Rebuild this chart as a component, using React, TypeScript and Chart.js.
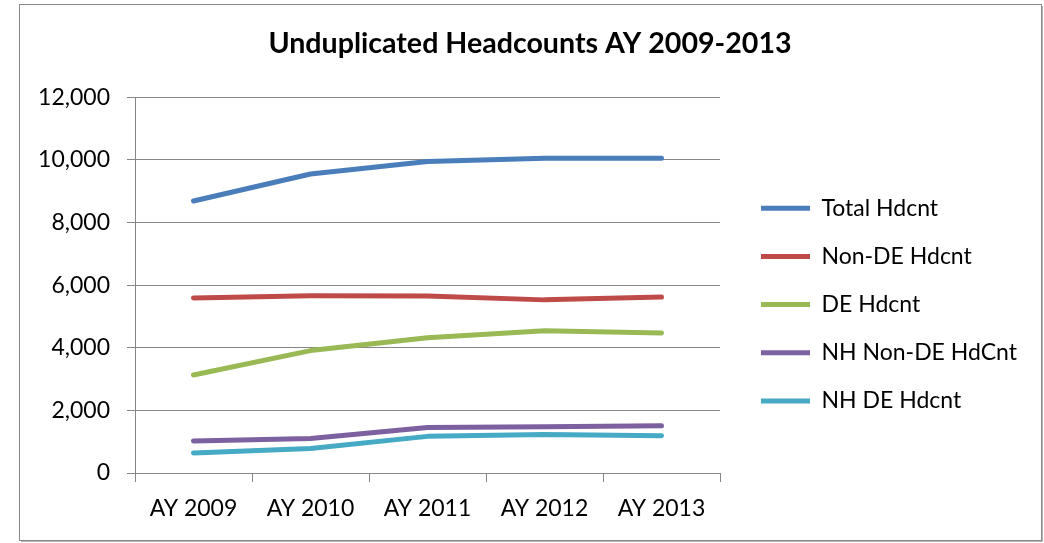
import React, { useEffect, useRef } from "react";
import { Chart, registerables } from "chart.js";

Chart.register(...registerables);

const categories = ["AY 2009", "AY 2010", "AY 2011", "AY 2012", "AY 2013"];
const seriesNames = ["Total Hdcnt", "Non-DE Hdcnt", "DE Hdcnt", "NH Non-DE HdCnt", "NH DE Hdcnt"];
const totalHdcnt = [8690, 9550, 9950, 10050, 10050];
const nonDeHdcnt = [5590, 5660, 5650, 5530, 5620];
const deHdcnt = [3130, 3910, 4320, 4540, 4470];
const nhNonDeHdcnt = [1020, 1100, 1450, 1480, 1510];
const nhDeHdcnt = [640, 780, 1170, 1230, 1190];
const seriesColors = ["#4A7EBB", "#BE4B48", "#98B954", "#7D60A0", "#46AAC5"];
const yTicks = [0, 2000, 4000, 6000, 8000, 10000, 12000];
const titleText = "Unduplicated Headcounts AY 2009-2013";

const FONT = "Lato";
const GRID = "#868686";

const borderPlugin = {
  id: "outerBorder",
  beforeDraw(chart: any) {
    const ctx = chart.ctx;
    ctx.save();
    ctx.fillStyle = "#ffffff";
    ctx.fillRect(0, 0, chart.width, chart.height);
    ctx.strokeStyle = "#b4b4b4";
    ctx.lineWidth = 1;
    ctx.beginPath();
    ctx.moveTo(1042.5, 6);
    ctx.lineTo(1042.5, 541.5);
    ctx.lineTo(21, 541.5);
    ctx.stroke();
    ctx.strokeStyle = "#8a8a8a";
    ctx.strokeRect(19.5, 4.5, 1022, 536);
    ctx.restore();
  },
};

const placePlugin = {
  id: "placeBlocks",
  afterLayout(chart: any) {
    const l = chart.legend;
    if (l) {
      const pad = l.options.labels.padding;
      const w = l.width;
      const h = l.height;
      l.left = 761 - pad;
      l.right = l.left + w;
      l.top = 171.5;
      l.bottom = l.top + h;
    }
    const t = chart.titleBlock;
    if (t) {
      t.left = 19;
      t.right = 1041;
      t.width = t.right - t.left;
    }
  },
};

export default function App() {
  const ref = useRef<HTMLCanvasElement | null>(null);
  useEffect(() => {
    if (!ref.current) return;
    const values = [totalHdcnt, nonDeHdcnt, deHdcnt, nhNonDeHdcnt, nhDeHdcnt];
    const chart = new Chart(ref.current, {
      type: "line",
      data: {
        labels: categories,
        datasets: values.map((v, i) => ({
          label: seriesNames[i],
          data: v,
          borderColor: seriesColors[i],
          backgroundColor: seriesColors[i],
          borderWidth: 5,
          borderCapStyle: "round",
          borderJoinStyle: "round",
          pointRadius: 0,
          pointHoverRadius: 0,
          tension: 0,
        })),
      },
      options: {
        responsive: false,
        animation: false,
        events: [],
        layout: { padding: { left: 20, right: 324, top: 0, bottom: 0 } },
        plugins: {
          tooltip: { enabled: false },
          title: {
            display: true,
            text: titleText,
            color: "#000000",
            font: { family: FONT, size: 28.6, weight: "bold", lineHeight: 1.2 },
            padding: { top: 27, bottom: 36 },
          },
          legend: {
            display: true,
            position: "chartArea",
            align: "start",
            labels: {
              color: "#000000",
              font: { family: FONT, size: 23, lineHeight: 1 },
              usePointStyle: true,
              pointStyle: "line",
              pointStyleWidth: 49,
              boxWidth: 49,
              boxHeight: 23,
              padding: 25.2,
            },
          },
        },
        scales: {
          x: {
            type: "category",
            offset: true,
            grid: {
              offset: true,
              drawOnChartArea: false,
              drawTicks: true,
              tickLength: 9,
              color: GRID,
              lineWidth: 1,
            },
            border: { display: true, color: GRID, width: 1 },
            ticks: {
              color: "#000000",
              font: { family: FONT, size: 23, lineHeight: 1.2 },
              padding: 13,
              maxRotation: 0,
              autoSkip: false,
            },
            afterFit(scale: any) {
              scale.height = 70;
            },
          },
          y: {
            min: 0,
            max: 12000,
            afterBuildTicks(scale: any) {
              scale.ticks = yTicks.map((v) => ({ value: v }));
            },
            grid: {
              drawOnChartArea: true,
              drawTicks: true,
              tickLength: 8,
              color: GRID,
              lineWidth: 1,
            },
            border: { display: true, color: GRID, width: 1 },
            ticks: {
              color: "#000000",
              font: { family: FONT, size: 23, lineHeight: 1.2 },
              padding: 17,
              callback: (v: any) => Number(v).toLocaleString("en-US"),
            },
            afterFit(scale: any) {
              scale.width = 115;
            },
          },
        },
      },
      plugins: [borderPlugin, placePlugin],
    } as any);
    return () => chart.destroy();
  }, []);
  return (
    <div style={{ position: "fixed", left: 0, top: 0, width: 1044, height: 543, background: "#fff" }}>
      <canvas ref={ref} width={1044} height={543} style={{ display: "block", width: 1044, height: 543 }} />
    </div>
  );
}
